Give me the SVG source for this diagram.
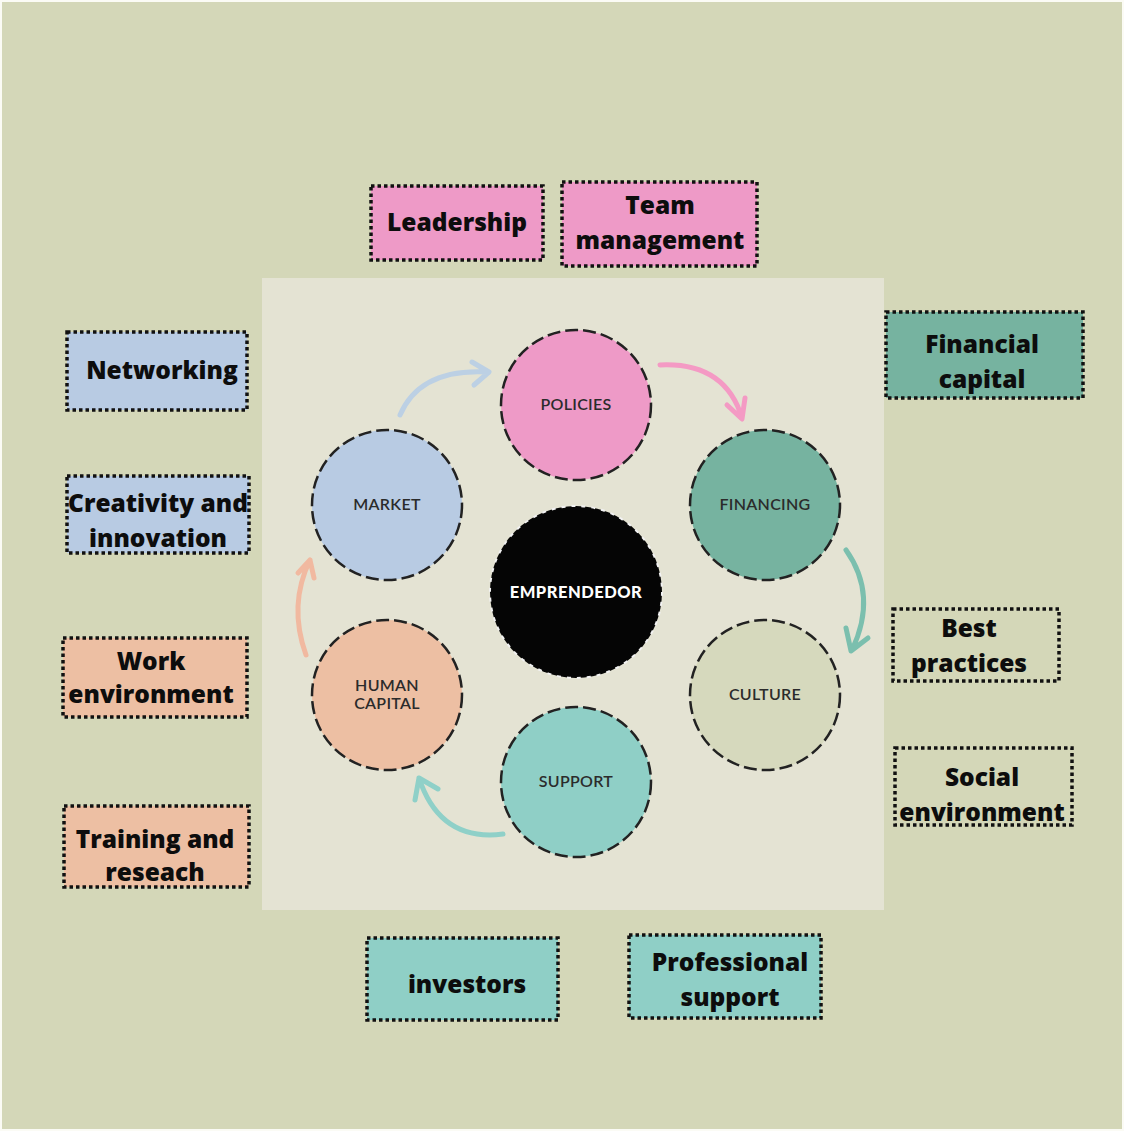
<svg xmlns="http://www.w3.org/2000/svg" width="1124" height="1131" viewBox="0 0 1124 1131">
  <defs>
    <style>
      .box { stroke: #111; stroke-width: 3.5; stroke-dasharray: 3.5 3; }
      .lbl { font-family: "Open Sans", "Liberation Sans", sans-serif; font-weight: 800; font-size: 24.5px; fill: #0d0d0d; text-anchor: middle; }
      .ring { stroke: #222; stroke-width: 2.5; stroke-dasharray: 13 5; }
      .cl { font-family: "Lato", "Liberation Sans", sans-serif; font-size: 16px; font-weight: 600; fill: #2b2b2b; text-anchor: middle; letter-spacing: 0.3px; }
      .arc { fill: none; stroke-width: 5; stroke-linecap: round; stroke-linejoin: round; }
    </style>
  </defs>

  <!-- page background -->
  <rect x="0" y="0" width="1124" height="1131" fill="#fbfbf5"/>
  <rect x="2" y="2" width="1120" height="1127" fill="#d4d7b8"/>

  <!-- paper sheet behind the cycle -->
  <rect x="262" y="278" width="622" height="632" fill="#e4e3d3"/>

  <!-- connectors: curved arrows between the circles -->
  <g id="connectors">
    <path class="arc" stroke="#bcd0e4" d="M400 415 Q420 368 488 372 M472 362 L489 372 L474 385"/>
    <path class="arc" stroke="#f49ac4" d="M660 365 Q725 362 742 418 M727 405 L742 419 L745 398"/>
    <path class="arc" stroke="#7bbfae" d="M846 550 Q878 595 852 650 M846 628 L851 651 L868 638"/>
    <path class="arc" stroke="#8fd0c8" d="M503 834 Q440 842 419 778 M415 800 L419 778 L438 789"/>
    <path class="arc" stroke="#f1b9a0" d="M306 655 Q288 605 310 560 M298 573 L310 560 L314 578"/>
  </g>

  <!-- cycle circles -->
  <g id="policies">
    <circle class="ring" cx="576" cy="405" r="75" fill="#ee9ac7"/>
    <text class="cl" x="576" y="410">POLICIES</text>
  </g>
  <g id="financing">
    <circle class="ring" cx="765" cy="505" r="75" fill="#76b3a0"/>
    <text class="cl" x="765" y="510">FINANCING</text>
  </g>
  <g id="culture">
    <circle class="ring" cx="765" cy="695" r="75" fill="#d6d9bd"/>
    <text class="cl" x="765" y="700">CULTURE</text>
  </g>
  <g id="support">
    <circle class="ring" cx="576" cy="782" r="75" fill="#8fcfc6"/>
    <text class="cl" x="576" y="787">SUPPORT</text>
  </g>
  <g id="human-capital">
    <circle class="ring" cx="387" cy="695" r="75" fill="#edbfa3"/>
    <text class="cl" x="387" y="691">HUMAN</text>
    <text class="cl" x="387" y="709">CAPITAL</text>
  </g>
  <g id="market">
    <circle class="ring" cx="387" cy="505" r="75" fill="#b8cbe3"/>
    <text class="cl" x="387" y="510">MARKET</text>
  </g>
  <g id="emprendedor">
    <circle cx="576" cy="592" r="86" fill="#050505" stroke="#f2f2f2" stroke-width="2" stroke-dasharray="4 6"/>
    <text x="576" y="598" font-family="Lato, 'Liberation Sans', sans-serif" font-weight="900" font-size="16.5" fill="#fff" text-anchor="middle" letter-spacing="0.5">EMPRENDEDOR</text>
  </g>

  <!-- labelled boxes around the cycle -->
  <g id="leadership">
    <rect class="box" x="371" y="186" width="172" height="74" fill="#ee9ac7"/>
    <text class="lbl" x="457" y="231">Leadership</text>
  </g>
  <g id="team-management">
    <rect class="box" x="562" y="182" width="195" height="84" fill="#ee9ac7"/>
    <text class="lbl" x="660" y="214">Team</text>
    <text class="lbl" x="660" y="249">management</text>
  </g>
  <g id="networking">
    <rect class="box" x="67" y="332" width="180" height="78" fill="#b8cbe3"/>
    <text class="lbl" x="162" y="379">Networking</text>
  </g>
  <g id="creativity">
    <rect class="box" x="67" y="476" width="182" height="77" fill="#b8cbe3"/>
    <text class="lbl" x="158" y="512">Creativity and</text>
    <text class="lbl" x="158" y="547">innovation</text>
  </g>
  <g id="work-environment">
    <rect class="box" x="63" y="638" width="184" height="79" fill="#edbfa3"/>
    <text class="lbl" x="151" y="670">Work</text>
    <text class="lbl" x="151" y="703">environment</text>
  </g>
  <g id="training">
    <rect class="box" x="64" y="806" width="185" height="81" fill="#edbfa3"/>
    <text class="lbl" x="155" y="848">Training and</text>
    <text class="lbl" x="155" y="881">reseach</text>
  </g>
  <g id="financial-capital">
    <rect class="box" x="886" y="312" width="197" height="86" fill="#76b3a0"/>
    <text class="lbl" x="982" y="353">Financial</text>
    <text class="lbl" x="982" y="388">capital</text>
  </g>
  <g id="best-practices">
    <rect class="box" x="893" y="609" width="166" height="72" fill="none"/>
    <text class="lbl" x="969" y="637">Best</text>
    <text class="lbl" x="969" y="672">practices</text>
  </g>
  <g id="social-environment">
    <rect class="box" x="895" y="748" width="177" height="77" fill="none"/>
    <text class="lbl" x="982" y="786">Social</text>
    <text class="lbl" x="982" y="821">environment</text>
  </g>
  <g id="investors">
    <rect class="box" x="367" y="938" width="191" height="82" fill="#8fcfc6"/>
    <text class="lbl" x="467" y="993">investors</text>
  </g>
  <g id="professional-support">
    <rect class="box" x="629" y="935" width="192" height="83" fill="#8fcfc6"/>
    <text class="lbl" x="730" y="971">Professional</text>
    <text class="lbl" x="730" y="1006">support</text>
  </g>
</svg>
